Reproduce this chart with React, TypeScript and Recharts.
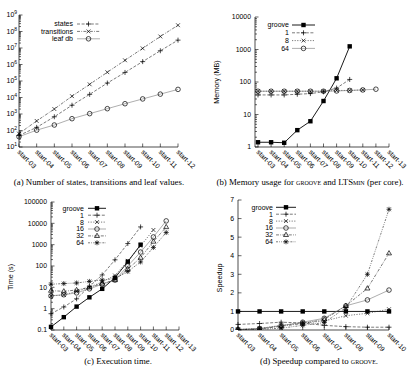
import React from 'react';
import { LineChart, Line, XAxis, YAxis, Legend } from 'recharts';

const FONT = '"Liberation Sans", Arial, Helvetica, sans-serif';
const SERIF = '"Liberation Serif", "Times New Roman", serif';

// ---------- Panel (a) ----------
const categoriesA = ['start-03', 'start-04', 'start-05', 'start-06', 'start-07', 'start-08', 'start-09', 'start-10', 'start-11', 'start-12'];
const statesA = [50, 155, 680, 3400, 15500, 75000, 330000, 1.5e6, 6.8e6, 3.0e7];
const transitionsA = [65, 380, 2000, 12000, 63000, 340000, 1.8e6, 9.5e6, 5.0e7, 2.4e8];
const leafDbA = [42, 105, 215, 520, 1050, 2100, 4200, 8200, 16000, 31000];
const yTicksA = [1e1, 1e2, 1e3, 1e4, 1e5, 1e6, 1e7, 1e8, 1e9];

// ---------- Panel (b) ----------
const categoriesB = ['start-03', 'start-04', 'start-05', 'start-06', 'start-07', 'start-08', 'start-09', 'start-10', 'start-11', 'start-12', 'start-13'];
const grooveB = [1.4, 1.4, 1.35, 3.3, 6.2, 26, 130, 1250, null, null, null];
const core1B = [40, 40, 40, 42, 44, 50, 65, 120, null, null, null];
const core8B = [52, 52, 52, 52, 52, 52, 55, 55, 57, null, null];
const core64B = [52, 52, 52, 52, 52, 52, 53, 55, 57, 60, null];
const yTicksB = [1, 10, 100, 1000, 10000];

// ---------- Panel (c) ----------
const categoriesC = ['start-03', 'start-04', 'start-05', 'start-06', 'start-07', 'start-08', 'start-09', 'start-10', 'start-11', 'start-12', 'start-13'];
const grooveC = [0.14, 0.4, 1.25, 3.4, 8.5, 28, 160, 1000, null, null, null];
const core1C = [0.58, 1.2, 2.9, 11, 38, 195, 1130, 6800, null, null, null];
const core8C = [4, 4.4, 6.5, 10, 18, 36, 175, 870, 4900, null, null];
const core16C = [4, 4.5, 5.5, 8.5, 14, 22, 100, 450, 2300, 13000, null];
const core32C = [7, 6.5, 7.5, 10, 15, 22, 72, 245, 1400, 6700, null];
const core64C = [14, 15, 16, 19, 22, 26, 55, 155, 740, 3700, null];
const yTicksC = [0.1, 1, 10, 100, 1000, 10000, 100000];

// ---------- Panel (d) ----------
const categoriesD = ['start-03', 'start-04', 'start-05', 'start-06', 'start-07', 'start-08', 'start-09', 'start-10'];
const grooveD = [1, 1, 1, 1, 1, 1, 1, 1];
const core1D = [0.3, 0.35, 0.42, 0.38, 0.25, 0.18, 0.15, 0.15];
const core8D = [0.03, 0.08, 0.25, 0.38, 0.48, 0.77, 0.9, 1.12];
const core16D = [0.03, 0.08, 0.23, 0.42, 0.63, 1.3, 1.62, 2.15];
const core32D = [0.02, 0.06, 0.2, 0.35, 0.57, 1.3, 2.24, 4.13];
const core64D = [0.01, 0.04, 0.1, 0.25, 0.4, 1.2, 3.0, 6.5];
const yTicksD = [0, 1, 2, 3, 4, 5, 6, 7];

type MarkerKind = 'plus' | 'cross' | 'circle' | 'square' | 'triangle' | 'star';

function Marker({ kind, cx, cy }: { kind: MarkerKind; cx: number; cy: number }) {
  const k = '#000';
  const sw = 0.7;
  if (kind === 'plus' || kind === 'cross' || kind === 'star') {
    const s = 2.5;
    const d = 1.9;
    return (
      <g stroke={k} strokeWidth={sw}>
        {(kind === 'plus' || kind === 'star') && (
          <>
            <line x1={cx - s} y1={cy} x2={cx + s} y2={cy} />
            <line x1={cx} y1={cy - s} x2={cx} y2={cy + s} />
          </>
        )}
        {(kind === 'cross' || kind === 'star') && (
          <>
            <line x1={cx - d} y1={cy - d} x2={cx + d} y2={cy + d} />
            <line x1={cx - d} y1={cy + d} x2={cx + d} y2={cy - d} />
          </>
        )}
      </g>
    );
  }
  if (kind === 'circle') return <circle cx={cx} cy={cy} r={2.3} fill="none" stroke={k} strokeWidth={sw} />;
  if (kind === 'square') return <rect x={cx - 2.2} y={cy - 2.2} width={4.4} height={4.4} fill={k} />;
  return <path d={`M${cx},${cy - 2.7}L${cx + 2.5},${cy + 1.6}L${cx - 2.5},${cy + 1.6}Z`} fill="none" stroke={k} strokeWidth={sw} />;
}

type Series = { key: string; name: string; data: (number | null)[]; marker: MarkerKind; dash?: string; stroke: string; width: number };

type PanelProps = {
  left: number; top: number; width: number; height: number;
  margin: { top: number; right: number; left: number; bottom: number };
  yWidth: number; xHeight: number; xPadLeft: number;
  cats: string[]; series: Series[];
  log: boolean; yDomain: [number, number]; yMajors: number[];
  yFmt: (v: number) => React.ReactNode; yLabelGap: number;
  legend: { textRight: number; x1: number; x2: number; y0: number; dy: number };
  yLabel?: { text: string; x: number; y: number };
};

const DASHED = '3 1.6';
const DOTTED = '1.2 1.4';
const DASHDOT = '3 1.3 0.8 1.3';
const DASHDOTDOT = '2 1.2 0.8 1.2 0.8 1.2';

function minorTicks(majors: number[]): number[] {
  const out: number[] = [];
  for (let i = 0; i < majors.length - 1; i++) {
    for (let m = 2; m <= 9; m++) out.push(majors[i] * m);
  }
  return out;
}

function supFmt(v: number) {
  const e = Math.round(Math.log10(v));
  return (
    <>
      <tspan>10</tspan>
      <tspan dy={-3} fontSize={5}>{e}</tspan>
    </>
  );
}

function Panel(p: PanelProps) {
  const data = p.cats.map((c, i) => {
    const row: Record<string, any> = { name: c };
    p.series.forEach((s) => { row[s.key] = s.data[i] ?? null; });
    return row;
  });
  const allTicks = p.log ? [...p.yMajors, ...minorTicks(p.yMajors)].sort((a, b) => a - b) : p.yMajors;
  const isMajor = (v: number) => p.yMajors.some((m) => Math.abs(m - v) <= 1e-9 * Math.max(1, Math.abs(m)));
  const axisLine = { stroke: '#000', strokeWidth: 0.7 };

  const leftTick = (t: any) => {
    const major = isMajor(t.payload.value);
    return (
      <g>
        <line x1={t.x} y1={t.y} x2={t.x + (major ? 3.5 : 2)} y2={t.y} stroke="#000" strokeWidth={0.6} />
        {major && (
          <text x={t.x - p.yLabelGap} y={t.y} dy="0.35em" textAnchor="end" fontSize={6.9} fontFamily={FONT} fill="#000">
            {p.yFmt(t.payload.value)}
          </text>
        )}
      </g>
    );
  };
  const rightTick = (t: any) => {
    const major = isMajor(t.payload.value);
    return <line x1={t.x} y1={t.y} x2={t.x - (major ? 3.5 : 2)} y2={t.y} stroke="#000" strokeWidth={0.6} />;
  };
  const bottomTick = (t: any) => {
    const bx = t.x - 2;
    const by = t.y + 5.5;
    return (
      <g>
        <line x1={t.x} y1={t.y} x2={t.x} y2={t.y - 3.5} stroke="#000" strokeWidth={0.6} />
        <text x={bx} y={by} transform={`rotate(45 ${bx} ${by})`} fontSize={6.9} fontFamily={FONT} fill="#000">
          {t.payload.value}
        </text>
      </g>
    );
  };
  const topTick = (t: any) => <line x1={t.x} y1={t.y} x2={t.x} y2={t.y + 3.5} stroke="#000" strokeWidth={0.6} />;

  const legendContent = () => (
    <svg width={p.width} height={p.height} style={{ position: 'absolute', left: 0, top: 0, pointerEvents: 'none' }}>
      {p.series.map((s, i) => {
        const y = p.legend.y0 + i * p.legend.dy;
        return (
          <g key={s.key}>
            <text x={p.legend.textRight} y={y} dy="0.35em" textAnchor="end" fontSize={7} fontFamily={FONT} fill="#000">
              {s.name}
            </text>
            <line x1={p.legend.x1} x2={p.legend.x2} y1={y} y2={y} stroke={s.stroke} strokeWidth={s.width} strokeDasharray={s.dash} />
            <Marker kind={s.marker} cx={(p.legend.x1 + p.legend.x2) / 2} cy={y} />
          </g>
        );
      })}
    </svg>
  );

  const yLabel = p.yLabel
    ? {
        content: () => (
          <text
            x={p.yLabel!.x}
            y={p.yLabel!.y}
            transform={`rotate(-90 ${p.yLabel!.x} ${p.yLabel!.y})`}
            textAnchor="middle"
            dy="0.35em"
            fontSize={7.2}
            fontFamily={FONT}
            fill="#000"
          >
            {p.yLabel!.text}
          </text>
        ),
      }
    : undefined;

  return (
    <div style={{ position: 'absolute', left: p.left, top: p.top, width: p.width, height: p.height }}>
      <LineChart width={p.width} height={p.height} data={data} margin={p.margin}>
        <XAxis
          xAxisId="b"
          dataKey="name"
          orientation="bottom"
          height={p.xHeight}
          interval={0}
          tickSize={0}
          tickMargin={0}
          tickLine={false}
          axisLine={axisLine}
          padding={{ left: p.xPadLeft, right: 0 }}
          tick={bottomTick}
        />
        <XAxis
          xAxisId="t"
          dataKey="name"
          orientation="top"
          height={0}
          interval={0}
          tickSize={0}
          tickMargin={0}
          tickLine={false}
          axisLine={axisLine}
          padding={{ left: p.xPadLeft, right: 0 }}
          tick={topTick}
        />
        <YAxis
          yAxisId="l"
          type="number"
          scale={p.log ? 'log' : 'linear'}
          domain={p.yDomain}
          allowDataOverflow
          ticks={allTicks}
          interval={0}
          width={p.yWidth}
          tickSize={0}
          tickMargin={0}
          tickLine={false}
          axisLine={axisLine}
          tick={leftTick}
          label={yLabel}
        />
        <YAxis
          yAxisId="r"
          orientation="right"
          type="number"
          scale={p.log ? 'log' : 'linear'}
          domain={p.yDomain}
          allowDataOverflow
          ticks={allTicks}
          interval={0}
          width={0}
          tickSize={0}
          tickMargin={0}
          tickLine={false}
          axisLine={axisLine}
          tick={rightTick}
        />
        {p.series.map((s) => (
          <Line
            key={s.key}
            xAxisId="b"
            yAxisId="l"
            type="linear"
            dataKey={s.key}
            name={s.name}
            stroke={s.stroke}
            strokeWidth={s.width}
            strokeDasharray={s.dash}
            connectNulls={false}
            isAnimationActive={false}
            activeDot={false}
            dot={(d: any) =>
              d.cx == null || d.cy == null || d.value == null || Number.isNaN(d.cy) ? (
                <g key={`${s.key}-${d.index}`} />
              ) : (
                <g key={`${s.key}-${d.index}`}>
                  <Marker kind={s.marker} cx={d.cx} cy={d.cy} />
                </g>
              )
            }
          />
        ))}
        <Legend
          layout="horizontal"
          verticalAlign="middle"
          align="center"
          content={legendContent}
          wrapperStyle={{ position: 'absolute', left: 0, top: 0, width: p.width, height: p.height, margin: 0, padding: 0, pointerEvents: 'none' }}
        />
      </LineChart>
    </div>
  );
}

const plainFmt = (v: number) => String(v);

const seriesA: Series[] = [
  { key: 'states', name: 'states', data: statesA, marker: 'plus', dash: DASHED, stroke: '#222', width: 0.6 },
  { key: 'transitions', name: 'transitions', data: transitionsA, marker: 'cross', dash: DASHDOT, stroke: '#222', width: 0.6 },
  { key: 'leaf', name: 'leaf db', data: leafDbA, marker: 'circle', stroke: '#777', width: 0.6 },
];
const seriesB: Series[] = [
  { key: 'groove', name: 'groove', data: grooveB, marker: 'square', stroke: '#000', width: 0.9 },
  { key: 'c1', name: '1', data: core1B, marker: 'plus', dash: DASHED, stroke: '#222', width: 0.6 },
  { key: 'c8', name: '8', data: core8B, marker: 'cross', dash: DOTTED, stroke: '#222', width: 0.6 },
  { key: 'c64', name: '64', data: core64B, marker: 'circle', stroke: '#777', width: 0.6 },
];
const seriesC: Series[] = [
  { key: 'groove', name: 'groove', data: grooveC, marker: 'square', stroke: '#000', width: 0.9 },
  { key: 'c1', name: '1', data: core1C, marker: 'plus', dash: DASHED, stroke: '#222', width: 0.6 },
  { key: 'c8', name: '8', data: core8C, marker: 'cross', dash: DOTTED, stroke: '#222', width: 0.6 },
  { key: 'c16', name: '16', data: core16C, marker: 'circle', stroke: '#777', width: 0.6 },
  { key: 'c32', name: '32', data: core32C, marker: 'triangle', dash: DASHDOT, stroke: '#222', width: 0.6 },
  { key: 'c64', name: '64', data: core64C, marker: 'star', dash: DASHDOTDOT, stroke: '#222', width: 0.6 },
];
const seriesD: Series[] = [
  { key: 'groove', name: 'groove', data: grooveD, marker: 'square', stroke: '#000', width: 0.9 },
  { key: 'c1', name: '1', data: core1D, marker: 'plus', dash: DASHED, stroke: '#222', width: 0.6 },
  { key: 'c8', name: '8', data: core8D, marker: 'cross', dash: DOTTED, stroke: '#222', width: 0.6 },
  { key: 'c16', name: '16', data: core16D, marker: 'circle', stroke: '#777', width: 0.6 },
  { key: 'c32', name: '32', data: core32D, marker: 'triangle', dash: DASHDOT, stroke: '#222', width: 0.6 },
  { key: 'c64', name: '64', data: core64D, marker: 'star', dash: DASHDOTDOT, stroke: '#222', width: 0.6 },
];

const captionStyle = (cx: number, cy: number): React.CSSProperties => ({
  position: 'absolute',
  left: cx,
  top: cy - 5,
  transform: 'translateX(-50%)',
  whiteSpace: 'nowrap',
  fontFamily: SERIF,
  fontSize: 8.8,
  lineHeight: '10px',
  color: '#000',
});

export default function App() {
  return (
    <div style={{ position: 'absolute', left: 0, top: 0, width: 418, height: 376, background: '#fff', overflow: 'hidden' }}>
      <Panel
        left={0} top={0} width={209} height={176}
        margin={{ top: 15, right: 31, left: 0, bottom: 0 }}
        yWidth={19} xHeight={29} xPadLeft={0}
        cats={categoriesA} series={seriesA}
        log yDomain={[10, 1e9]} yMajors={yTicksA} yFmt={supFmt} yLabelGap={2}
        legend={{ textRight: 73, x1: 77, x2: 100, y0: 24, dy: 7.4 }}
      />
      <Panel
        left={209} top={0} width={209} height={176}
        margin={{ top: 17, right: 29, left: 0, bottom: 0 }}
        yWidth={46} xHeight={29} xPadLeft={3}
        cats={categoriesB} series={seriesB}
        log yDomain={[1, 10000]} yMajors={yTicksB} yFmt={plainFmt} yLabelGap={4}
        legend={{ textRight: 80, x1: 83, x2: 106, y0: 25, dy: 7.8 }}
        yLabel={{ text: 'Memory (MB)', x: 7, y: 82 }}
      />
      <Panel
        left={0} top={188} width={209} height={176}
        margin={{ top: 14, right: 30, left: 0, bottom: 0 }}
        yWidth={51} xHeight={34} xPadLeft={0}
        cats={categoriesC} series={seriesC}
        log yDomain={[0.1, 100000]} yMajors={yTicksC} yFmt={plainFmt} yLabelGap={4}
        legend={{ textRight: 84, x1: 88, x2: 106, y0: 20.3, dy: 6.9 }}
        yLabel={{ text: 'Time (s)', x: 10, y: 89 }}
      />
      <Panel
        left={209} top={188} width={209} height={176}
        margin={{ top: 12, right: 29, left: 0, bottom: 0 }}
        yWidth={29} xHeight={34} xPadLeft={0}
        cats={categoriesD} series={seriesD}
        log={false} yDomain={[0, 7]} yMajors={yTicksD} yFmt={plainFmt} yLabelGap={4}
        legend={{ textRight: 64, x1: 67, x2: 87, y0: 19.3, dy: 6.9 }}
        yLabel={{ text: 'Speedup', x: 10, y: 90 }}
      />
      <div style={captionStyle(99, 181.5)}>(a) Number of states, transitions and leaf values.</div>
      <div style={captionStyle(310, 181.5)}>
        (b) Memory usage for <span style={{ fontVariant: 'small-caps' }}>groove</span> and LTS<span style={{ fontVariant: 'small-caps' }}>min</span> (per core).
      </div>
      <div style={captionStyle(118, 361)}>(c) Execution time.</div>
      <div style={captionStyle(319, 361)}>
        (d) Speedup compared to <span style={{ fontVariant: 'small-caps' }}>groove</span>.
      </div>
    </div>
  );
}
